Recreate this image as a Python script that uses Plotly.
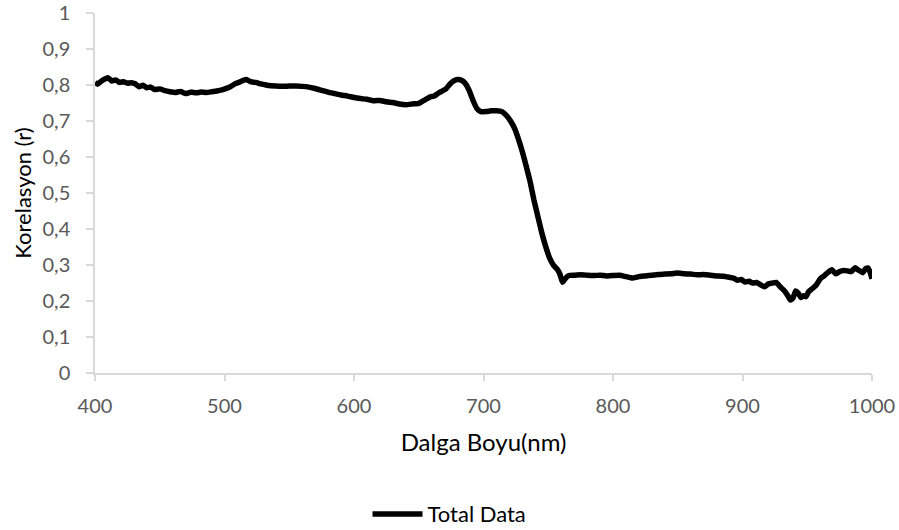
import plotly.graph_objects as go

wavelength = [400, 402, 405, 408, 410, 413, 416, 419, 422, 425, 428, 431, 434, 437, 440, 443, 446, 450,
              454, 458, 462, 466, 470, 474, 478, 482, 486, 490, 494, 498, 502, 505, 508, 511, 514, 517,
              520, 524, 528, 532, 536, 540, 545, 550, 555, 560, 565, 570, 575, 580, 585, 590, 595, 600,
              605, 610, 615, 620, 625, 630, 635, 640, 645, 650, 653, 656, 659, 662, 665, 668, 671, 674,
              677, 680, 683, 686, 689, 692, 695, 698, 702, 706, 710, 714, 718, 721, 724, 727, 730, 733,
              736, 739, 742, 745, 748, 751, 754, 757, 759, 761, 763, 766, 770, 775, 780, 785, 790, 795,
              800, 805, 810, 815, 820, 825, 830, 835, 840, 845, 850, 855, 860, 865, 870, 875, 880, 885,
              890, 893, 896, 899, 902, 905, 908, 911, 914, 917, 920, 923, 926, 929, 932, 935, 937, 939,
              941, 943, 945, 947, 949, 951, 954, 957, 960, 963, 966, 969, 972, 975, 978, 981, 984, 987,
              989, 991, 993, 995, 997, 999, 1000]

total_data = [0.808, 0.803, 0.812, 0.818, 0.821, 0.812, 0.815, 0.808, 0.810, 0.806, 0.807, 0.804, 0.796,
              0.800, 0.793, 0.795, 0.788, 0.790, 0.785, 0.782, 0.780, 0.783, 0.777, 0.781, 0.779, 0.781,
              0.780, 0.782, 0.784, 0.787, 0.792, 0.797, 0.804, 0.808, 0.813, 0.816, 0.810, 0.808, 0.804,
              0.801, 0.799, 0.798, 0.797, 0.798, 0.798, 0.797, 0.795, 0.791, 0.786, 0.781, 0.777, 0.773,
              0.770, 0.766, 0.763, 0.761, 0.757, 0.758, 0.754, 0.752, 0.748, 0.746, 0.748, 0.750, 0.756,
              0.762, 0.768, 0.770, 0.778, 0.784, 0.790, 0.803, 0.812, 0.816, 0.814, 0.805, 0.785, 0.757,
              0.735, 0.727, 0.727, 0.729, 0.729, 0.727, 0.715, 0.700, 0.680, 0.650, 0.615, 0.575, 0.532,
              0.480, 0.435, 0.390, 0.352, 0.320, 0.300, 0.288, 0.275, 0.252, 0.262, 0.271, 0.272, 0.273,
              0.272, 0.271, 0.272, 0.270, 0.271, 0.272, 0.268, 0.264, 0.268, 0.270, 0.272, 0.274, 0.275,
              0.276, 0.278, 0.276, 0.275, 0.273, 0.274, 0.272, 0.270, 0.269, 0.266, 0.264, 0.258, 0.260,
              0.253, 0.255, 0.250, 0.252, 0.245, 0.240, 0.248, 0.250, 0.252, 0.240, 0.230, 0.215, 0.203,
              0.208, 0.228, 0.222, 0.210, 0.215, 0.212, 0.226, 0.235, 0.245, 0.262, 0.270, 0.280, 0.287,
              0.276, 0.282, 0.285, 0.284, 0.282, 0.293, 0.287, 0.283, 0.279, 0.290, 0.292, 0.275, 0.262]

series_name = "Total Data"
x_title = "Dalga Boyu(nm)"
y_title = "Korelasyon (r)"
x_tickvals = [400, 500, 600, 700, 800, 900, 1000]
y_tickvals = [0, 0.1, 0.2, 0.3, 0.4, 0.5, 0.6, 0.7, 0.8, 0.9, 1]
y_ticktext = ["0", "0,1", "0,2", "0,3", "0,4", "0,5", "0,6", "0,7", "0,8", "0,9", "1"]

FONT = "Lato, 'Open Sans', sans-serif"
AXIS_COLOR = "#d9d9d9"
TICK_FONT_COLOR = "#595959"

fig = go.Figure()
fig.add_trace(go.Scatter(
    x=wavelength, y=total_data, mode="lines", name=series_name,
    line=dict(color="black", width=5.5, shape="spline", smoothing=0.4),
))

fig.update_layout(
    width=899, height=530,
    margin=dict(l=95, r=27, t=13, b=157),
    paper_bgcolor="white", plot_bgcolor="white",
    font=dict(family=FONT, size=20, color=TICK_FONT_COLOR),
    separators=", ",
    showlegend=True,
    legend=dict(orientation="h", x=0.5, xanchor="center", xref="container",
                y=0.03, yanchor="middle", yref="container",
                font=dict(family=FONT, size=22, color="black"),
                itemwidth=50, bgcolor="rgba(0,0,0,0)"),
    xaxis=dict(range=[400, 1000], tickvals=x_tickvals, showgrid=False, zeroline=False,
               showline=True, linecolor=AXIS_COLOR, linewidth=1.5, automargin=False,
               ticks="outside", ticklen=6, tickcolor=AXIS_COLOR, tickwidth=1.5,
               ticklabelstandoff=8,
               tickfont=dict(family=FONT, size=20, color=TICK_FONT_COLOR),
               title=dict(text=x_title, font=dict(family=FONT, size=24, color="black"), standoff=18)),
    yaxis=dict(range=[0, 1.001], tickvals=y_tickvals, ticktext=y_ticktext, showgrid=False, zeroline=False,
               showline=True, linecolor=AXIS_COLOR, linewidth=1.5, automargin=False,
               ticks="outside", ticklen=7, tickcolor=AXIS_COLOR, tickwidth=1.5,
               ticklabelstandoff=12, ticklabeloverflow="allow",
               tickfont=dict(family=FONT, size=20, color=TICK_FONT_COLOR),
               title=dict(text=y_title, font=dict(family=FONT, size=22, color="black"), standoff=5)),
)

fig.write_html("out.html")
